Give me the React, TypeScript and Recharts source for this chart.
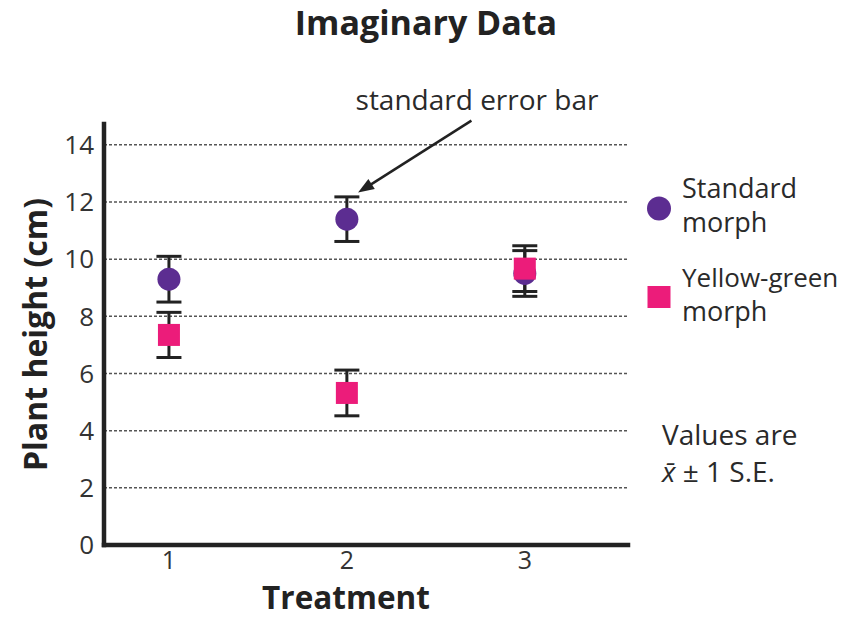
import React from 'react';
import { ScatterChart, Scatter, XAxis, YAxis, ErrorBar, ReferenceLine } from 'recharts';

const treatments = [1, 2, 3];
const standardMean = [9.3, 11.4, 9.5];
const standardSE = [0.8, 0.78, 0.8];
const yellowMean = [7.35, 5.32, 9.67];
const yellowSE = [0.79, 0.8, 0.8];
const yTicks = [0, 2, 4, 6, 8, 10, 12, 14];
const xTicks = [1, 2, 3];
const gridValues = [2, 4, 6, 8, 10, 12, 14];

const PURPLE = '#5c2d91';
const PINK = '#ec1c7a';
const INK = '#222222';
const FONT = '"Open Sans", sans-serif';

const standardData = treatments.map((t, i) => ({ x: t, y: standardMean[i], se: standardSE[i] }));
const yellowData = treatments.map((t, i) => ({ x: t, y: yellowMean[i], se: yellowSE[i] }));

// annotation arrow from the label to the top of treatment 2 standard-morph error bar
const arrowSegment = [
  { x: 2.7, y: 14.85 },
  { x: 2.063, y: 12.33 },
];

const CircleShape = (props: any) => (
  <circle cx={props.cx} cy={props.cy} r={11.5} fill={PURPLE} />
);
const SquareShape = (props: any) => (
  <rect x={props.cx - 11} y={props.cy - 11} width={22} height={22} fill={PINK} />
);

const ArrowShape = (props: any) => {
  const { x1, y1, x2, y2 } = props;
  const dx = x2 - x1;
  const dy = y2 - y1;
  const len = Math.sqrt(dx * dx + dy * dy) || 1;
  const ux = dx / len;
  const uy = dy / len;
  const hl = 16;
  const hw = 6;
  const bx = x2 - ux * hl;
  const by = y2 - uy * hl;
  const p1 = `${bx - uy * hw},${by + ux * hw}`;
  const p2 = `${bx + uy * hw},${by - ux * hw}`;
  return (
    <g>
      <line x1={x1} y1={y1} x2={bx + ux * 2} y2={by + uy * 2} stroke={INK} strokeWidth={2.5} />
      <polygon points={`${x2},${y2} ${p1} ${p2}`} fill={INK} />
    </g>
  );
};

const YLabel = (props: any) => {
  const vb = props.viewBox || { x: 0, y: 124, width: 104, height: 421 };
  const cx = vb.x + 34;
  const cy = vb.y + vb.height / 2;
  return (
    <text
      x={cx}
      y={cy}
      transform={`rotate(-90 ${cx} ${cy})`}
      textAnchor="middle"
      dominantBaseline="central"
      fontFamily={FONT}
      fontWeight={700}
      fontSize={32}
      fill={INK}
    >
      Plant height (cm)
    </text>
  );
};

const XLabel = (props: any) => {
  const vb = props.viewBox || { x: 104, y: 545, width: 524, height: 74 };
  return (
    <text
      x={vb.x + vb.width / 2 - 20}
      y={vb.y + 64}
      textAnchor="middle"
      fontFamily={FONT}
      fontWeight={700}
      fontSize={31.5}
      fill={INK}
    >
      Treatment
    </text>
  );
};

export default function App() {
  const textStyle = { fontFamily: FONT, fill: '#2a2a2a' };
  return (
    <div style={{ position: 'absolute', left: 0, top: 0, width: 865, height: 619, background: '#fff' }}>
      <ScatterChart width={865} height={619} margin={{ top: 124, right: 237, bottom: 0, left: 0 }}>
        {gridValues.map((v) => (
          <ReferenceLine
            key={v}
            y={v}
            stroke="#555"
            strokeWidth={1.5}
            strokeDasharray="3 2"
          />
        ))}
        <XAxis
          type="number"
          dataKey="x"
          domain={[0.635, 3.58]}
          ticks={xTicks}
          allowDataOverflow
          height={74}
          tickLine={false}
          tickSize={0}
          tickMargin={6}
          axisLine={{ stroke: INK, strokeWidth: 4.5, strokeLinecap: 'square' }}
          tick={{ fill: '#333', fontSize: 25, fontFamily: FONT }}
          label={{ content: XLabel }}
        />
        <YAxis
          type="number"
          dataKey="y"
          domain={[0, 14.73]}
          ticks={yTicks}
          allowDataOverflow
          width={104}
          tickLine={false}
          tickSize={0}
          tickMargin={10}
          axisLine={{ stroke: INK, strokeWidth: 4.5, strokeLinecap: 'square' }}
          tick={{ fill: '#333', fontSize: 26, fontFamily: FONT }}
          label={{ content: YLabel }}
        />
        <ReferenceLine segment={arrowSegment} ifOverflow="visible" stroke={INK} shape={ArrowShape} />
        <Scatter name="Standard morph" data={standardData} shape={CircleShape} isAnimationActive={false}>
          <ErrorBar dataKey="se" direction="y" width={12.5} stroke={INK} strokeWidth={3} isAnimationActive={false} />
        </Scatter>
        <Scatter name="Yellow-green morph" data={yellowData} shape={SquareShape} isAnimationActive={false}>
          <ErrorBar dataKey="se" direction="y" width={12.5} stroke={INK} strokeWidth={3} isAnimationActive={false} />
        </Scatter>
      </ScatterChart>
      <svg
        width={865}
        height={619}
        style={{ position: 'absolute', left: 0, top: 0, pointerEvents: 'none' }}
      >
        <text x={426} y={35} textAnchor="middle" fontFamily={FONT} fontWeight={700} fontSize={34} fill={INK}>
          Imaginary Data
        </text>
        <text x={477} y={110} textAnchor="middle" fontSize={28} {...textStyle}>
          standard error bar
        </text>
        <circle cx={659} cy={208.5} r={12} fill={PURPLE} />
        <text x={682} y={198} fontSize={27} {...textStyle}>Standard</text>
        <text x={682} y={232} fontSize={27} {...textStyle}>morph</text>
        <rect x={647.5} y={286} width={23} height={22} fill={PINK} />
        <text x={682} y={287} fontSize={26} {...textStyle}>Yellow-green</text>
        <text x={682} y={321} fontSize={27} {...textStyle}>morph</text>
        <text x={662} y={445} fontSize={28} {...textStyle}>Values are</text>
        <text x={662} y={482} fontSize={28} {...textStyle}>
          <tspan fontStyle="italic">x̄</tspan> ± 1 S.E.
        </text>
      </svg>
    </div>
  );
}
